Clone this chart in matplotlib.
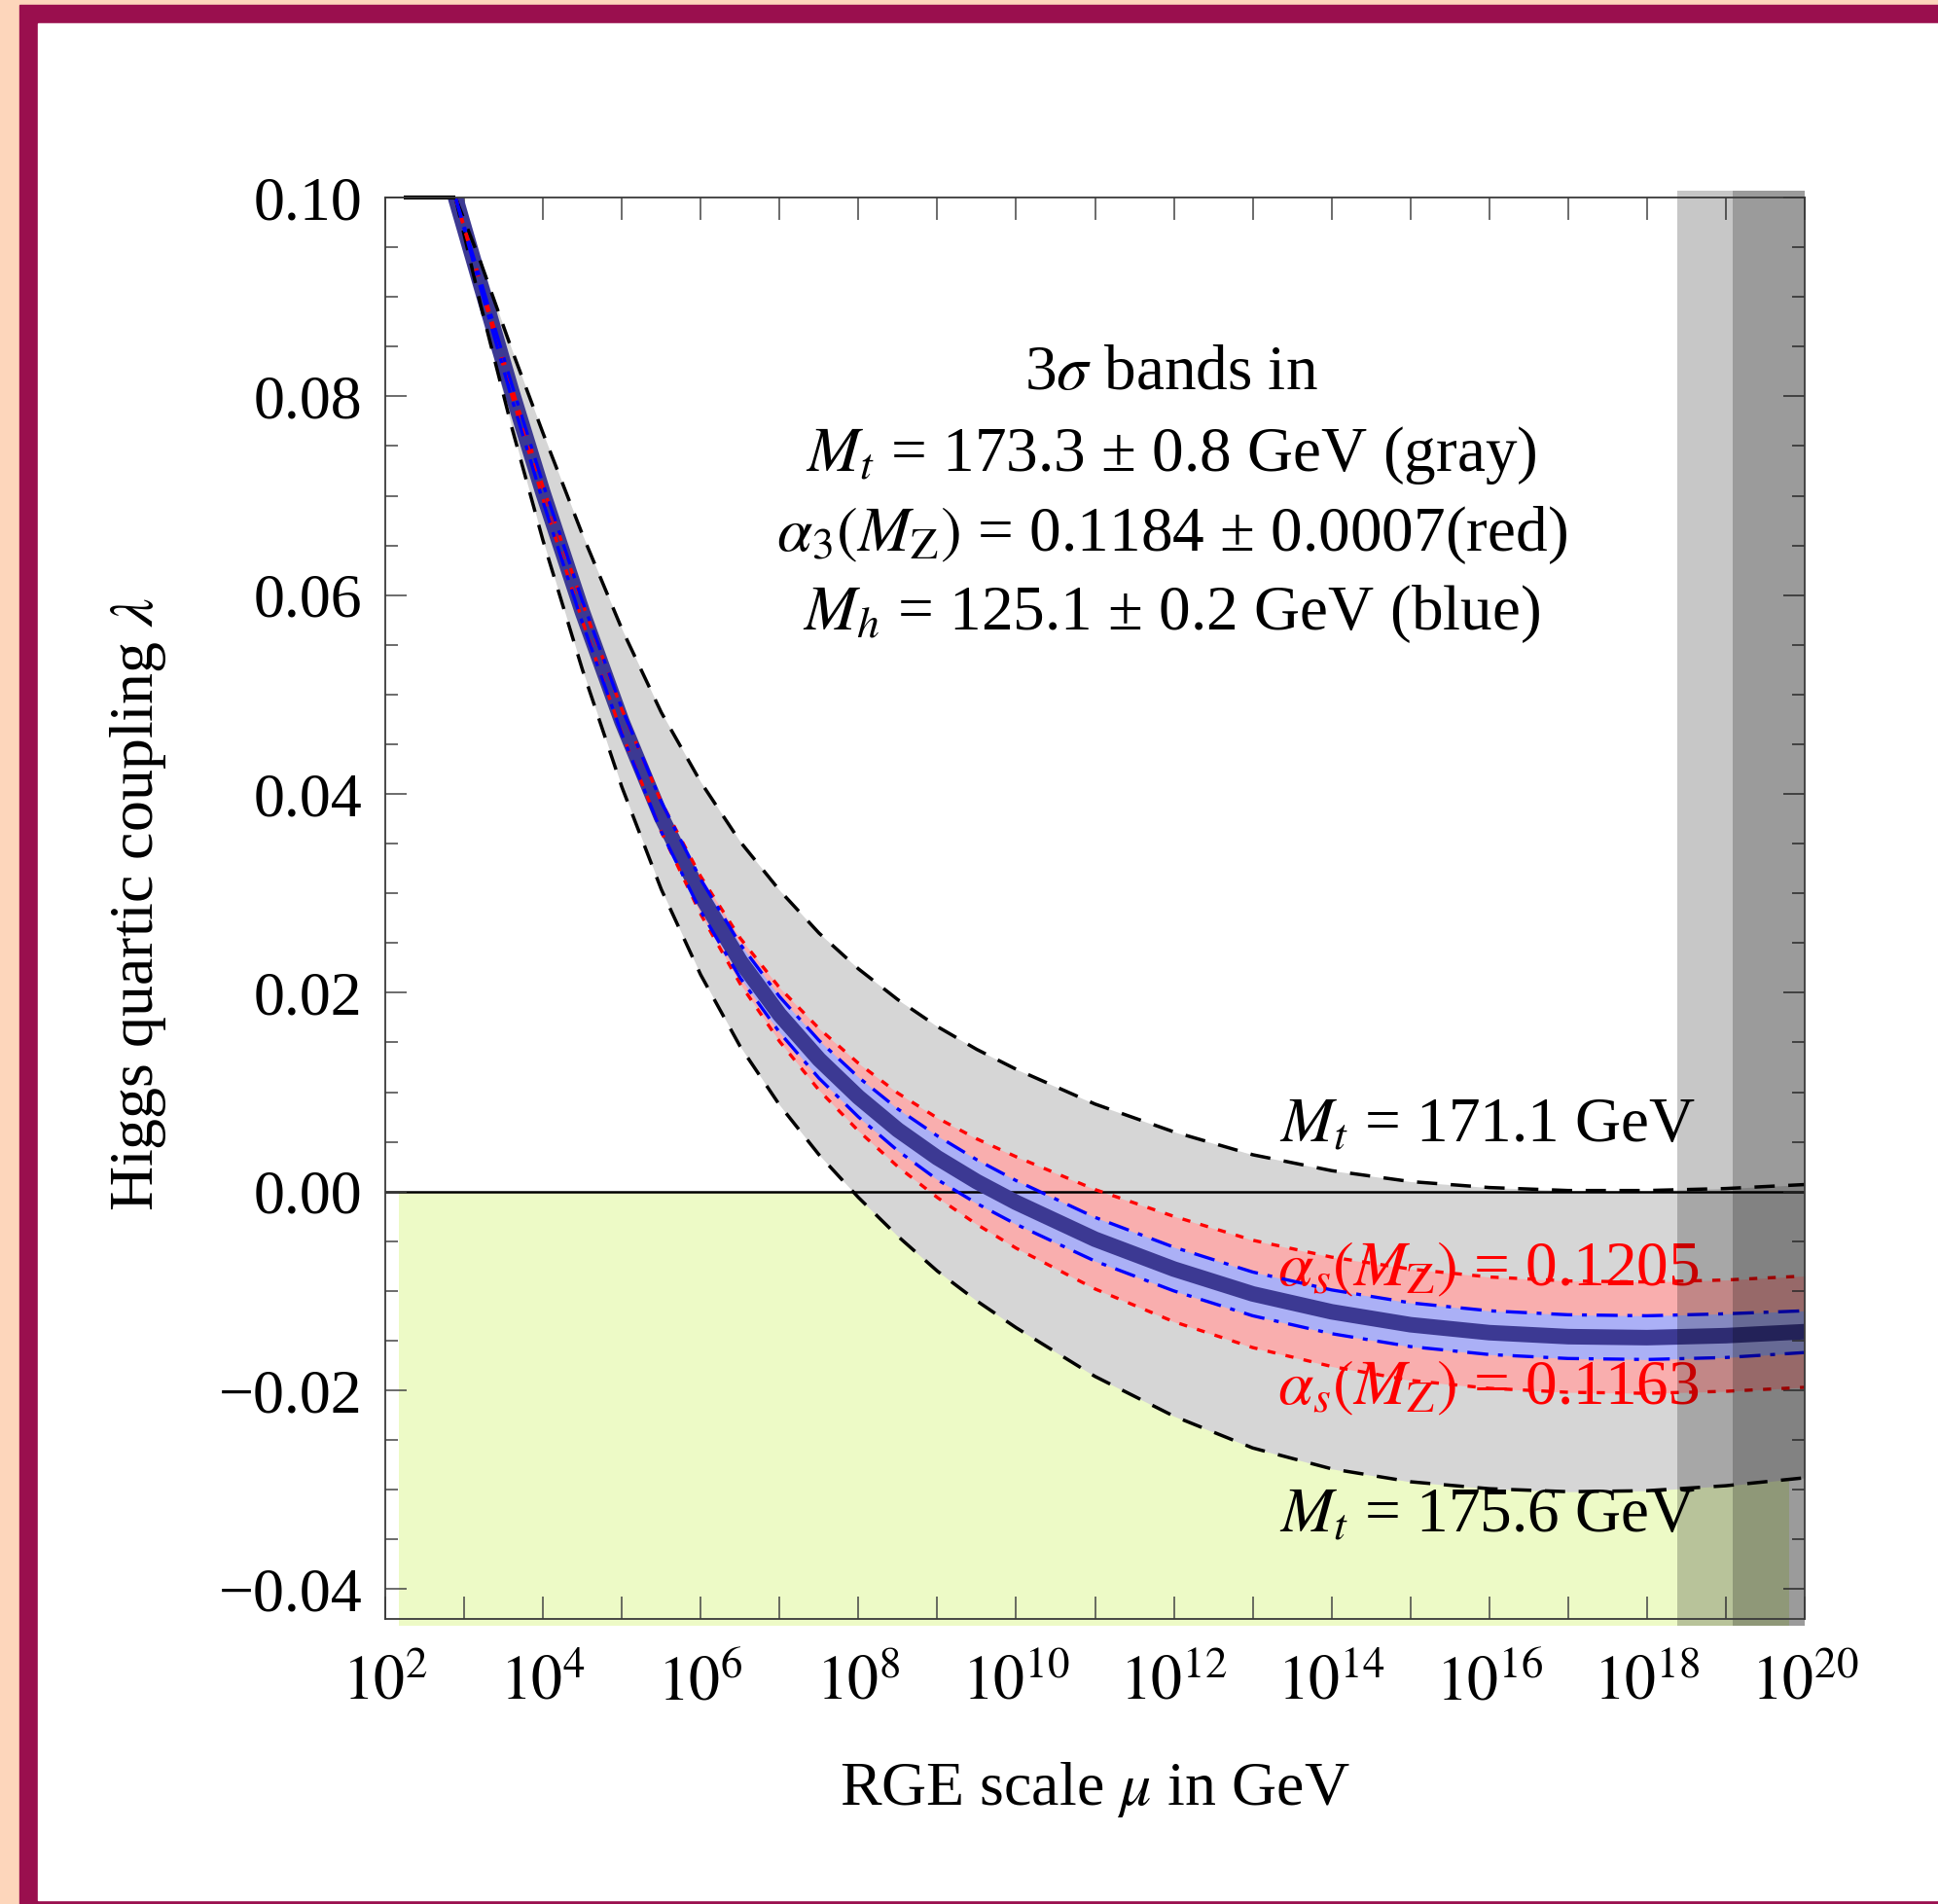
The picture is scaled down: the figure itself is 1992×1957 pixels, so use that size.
import numpy as np
import matplotlib
matplotlib.use('Agg')
import matplotlib.pyplot as plt
from matplotlib.patches import Rectangle
from matplotlib.ticker import FixedLocator, NullLocator, MultipleLocator

plt.rcParams['font.family'] = ['Liberation Serif', 'DejaVu Serif']
plt.rcParams['mathtext.fontset'] = 'stix'

# log10(mu / GeV) sample points
logmu = [2.89, 3.2, 3.6, 4.0, 4.5, 5.0, 5.5, 6.0, 6.5, 7.0, 7.5, 8.0, 8.5, 9.0,
         9.5, 10.0, 11.0, 12.0, 13.0, 14.0, 15.0, 16.0, 17.0, 18.0, 19.0, 20.0]

# central curve (dark blue)
lam_central = [0.1000, 0.0915, 0.0806, 0.0703, 0.0583, 0.0473, 0.0377, 0.0298, 0.0232,
               0.0178, 0.0133, 0.0095, 0.0062, 0.0034, 0.0010, -0.0011, -0.0048, -0.0078,
               -0.0103, -0.0121, -0.0134, -0.0142, -0.0146, -0.0147, -0.0145, -0.0141]
# gray band: Mt = 171.1 (upper) and Mt = 175.6 (lower)
lam_mt_lo = [0.1000, 0.0937, 0.0848, 0.0763, 0.0661, 0.0566, 0.0482, 0.0412, 0.0352,
             0.0303, 0.0260, 0.0224, 0.0193, 0.0166, 0.0143, 0.0123, 0.0088, 0.0060,
             0.0037, 0.0021, 0.0010, 0.0004, 0.0001, 0.0001, 0.0003, 0.0007]
lam_mt_hi = [0.1000, 0.0895, 0.0770, 0.0655, 0.0525, 0.0407, 0.0304, 0.0218, 0.0146,
             0.0087, 0.0037, -0.0006, -0.0045, -0.0080, -0.0110, -0.0137, -0.0186, -0.0226,
             -0.0258, -0.0279, -0.0292, -0.0299, -0.0302, -0.0301, -0.0296, -0.0288]
# red band: alpha_s = 0.1205 (upper) and 0.1163 (lower)
lam_as_hi = [0.1000, 0.0917, 0.0810, 0.0709, 0.0592, 0.0485, 0.0392, 0.0317, 0.0255,
             0.0205, 0.0164, 0.0129, 0.0099, 0.0074, 0.0053, 0.0035, 0.0002, -0.0025,
             -0.0049, -0.0066, -0.0078, -0.0086, -0.0090, -0.0091, -0.0089, -0.0085]
lam_as_lo = [0.1000, 0.0913, 0.0802, 0.0697, 0.0574, 0.0461, 0.0362, 0.0279, 0.0209,
             0.0151, 0.0102, 0.0061, 0.0025, -0.0006, -0.0033, -0.0057, -0.0098, -0.0131,
             -0.0157, -0.0176, -0.0190, -0.0198, -0.0202, -0.0203, -0.0201, -0.0197]
# blue band: Mh variation
lam_mh_hi = [0.1000, 0.0919, 0.0813, 0.0712, 0.0594, 0.0486, 0.0392, 0.0314, 0.0249,
             0.0196, 0.0152, 0.0115, 0.0083, 0.0056, 0.0032, 0.0011, -0.0026, -0.0056,
             -0.0081, -0.0099, -0.0112, -0.0120, -0.0124, -0.0125, -0.0123, -0.0120]
lam_mh_lo = [0.1000, 0.0911, 0.0799, 0.0694, 0.0572, 0.0460, 0.0362, 0.0282, 0.0215,
             0.0160, 0.0114, 0.0075, 0.0041, 0.0012, -0.0012, -0.0033, -0.0070, -0.0100,
             -0.0125, -0.0143, -0.0156, -0.0164, -0.0168, -0.0169, -0.0167, -0.0162]

x_exps = list(range(2, 21))
x_labels = [f'$10^{{{e}}}$' if e % 2 == 0 else '' for e in x_exps]
y_ticks = [-0.04, -0.02, 0.0, 0.02, 0.04, 0.06, 0.08, 0.10]
y_labels = ['\u22120.04', '\u22120.02', '0.00', '0.02', '0.04', '0.06', '0.08', '0.10']

W, H = 1992, 1957
fig = plt.figure(figsize=(W / 100, H / 100), dpi=100)
fig.patch.set_facecolor('#FDD6BB')
fig.add_artist(Rectangle((20 / W, 0), 1, 1 - 5 / H, transform=fig.transFigure,
                         color='#9A0F4E', zorder=-10))
fig.add_artist(Rectangle((39 / W, 4 / H), 1, 1 - 28 / H, transform=fig.transFigure,
                         color='white', zorder=-9))

ax = fig.add_axes([396 / W, 1 - 1664 / H, (1855 - 396) / W, (1664 - 203) / H])
ax.set_facecolor('white')
ax.set_xscale('log')

mu = 10.0 ** np.array(logmu)

# unstable region
ax.add_patch(Rectangle((10 ** 2.17, -0.0437), 10 ** 19.8 - 10 ** 2.17, 0.0437,
                       facecolor='#EDFAC6', lw=0, clip_on=False, zorder=0.5))

ax.fill_between(mu, lam_mt_hi, lam_mt_lo, color='#D6D6D6', lw=0, zorder=1)
ax.fill_between(mu, lam_as_lo, lam_as_hi, color='#F9AEAE', lw=0, zorder=1.1)
ax.fill_between(mu, lam_mh_lo, lam_mh_hi, color='#ABB0F6', lw=0, zorder=1.2)

ax.axhline(0, color='black', lw=1.8, zorder=1.5)

ax.plot(mu, lam_central, color='#3C3993', lw=11.5, zorder=2, solid_capstyle='butt')

for yy in (lam_mt_lo, lam_mt_hi):
    ax.plot(mu, yy, color='black', lw=2.5, dashes=(6, 4), zorder=2.5)
for yy in (lam_as_lo, lam_as_hi):
    ax.plot(mu, yy, color='#FF0000', lw=2.4, dashes=(2.5, 3.2), zorder=2.6)
for yy in (lam_mh_lo, lam_mh_hi):
    ax.plot(mu, yy, color='#0000FF', lw=2.4, dashes=(6.5, 3, 1.5, 3), zorder=2.7)

ax.plot([10 ** 2.24, 10 ** 2.89], [0.1, 0.1], color='black', lw=3, clip_on=False,
        zorder=3, solid_capstyle='butt')

# Planck-scale shading
for lo in (18.38, 19.085):
    ax.add_patch(Rectangle((10 ** lo, -0.0437), 1e20 - 10 ** lo, 0.14436,
                           facecolor='black', alpha=0.22, lw=0, clip_on=False, zorder=4))

fs = 47
tx = 10 ** 11.97
ax.text(tx, 0.0807, r'3$\sigma$ bands in', ha='center', va='baseline', fontsize=fs, zorder=5)
ax.text(tx, 0.0725, r'$M_t$ = 173.3 ± 0.8 GeV (gray)', ha='center', va='baseline',
        fontsize=fs, zorder=5)
ax.text(tx, 0.0645, r'$\alpha_3(M_{\mathrm{Z}})$ = 0.1184 ± 0.0007(red)', ha='center',
        va='baseline', fontsize=fs, zorder=5)
ax.text(tx, 0.0565, r'$M_h$ = 125.1 ± 0.2 GeV (blue)', ha='center', va='baseline',
        fontsize=fs, zorder=5)

rx = 10 ** 18.62
ax.text(rx, 0.0050, r'$M_t$ = 171.1 GeV', ha='right', va='baseline', fontsize=fs, zorder=3.5)
ax.text(10 ** 18.66, -0.0095, r'$\alpha_s(M_{\mathrm{Z}})$ = 0.1205', ha='right',
        va='baseline', fontsize=fs, color='#FF0000', zorder=1.9)
ax.text(10 ** 18.66, -0.0214, r'$\alpha_s(M_{\mathrm{Z}})$ = 0.1163', ha='right',
        va='baseline', fontsize=fs, color='#FF0000', zorder=1.9)
ax.text(rx, -0.0343, r'$M_t$ = 175.6 GeV', ha='right', va='baseline', fontsize=fs, zorder=1.9)

ax.set_xlim(1e2, 1e20)
ax.set_ylim(-0.0430, 0.100)
ax.xaxis.set_major_locator(FixedLocator([10.0 ** e for e in x_exps]))
ax.xaxis.set_minor_locator(NullLocator())
ax.set_xticklabels(x_labels)
ax.yaxis.set_major_locator(FixedLocator(y_ticks))
ax.yaxis.set_minor_locator(MultipleLocator(0.005))
ax.set_yticklabels(y_labels)

ax.tick_params(axis='both', which='both', direction='in', top=True, right=True,
               color='#444444', width=1.1)
ax.tick_params(axis='x', which='major', length=16.5, pad=28, labelsize=46)
ax.tick_params(axis='y', which='major', length=16, pad=17, labelsize=46)
ax.tick_params(axis='y', which='minor', length=9.4)
for s in ax.spines.values():
    s.set_color('#3a3a3a')
    s.set_linewidth(1.3)
    s.set_zorder(6)

fig.text(1125 / W, 1 - 1840 / H, r'RGE scale $\mu$ in GeV', ha='center', va='center',
         fontsize=46)
fig.text(142 / W, 1 - 930 / H, r'Higgs quartic coupling $\lambda$', ha='center',
         va='center', rotation=90, fontsize=46)

fig.savefig('out.png', dpi=100)
